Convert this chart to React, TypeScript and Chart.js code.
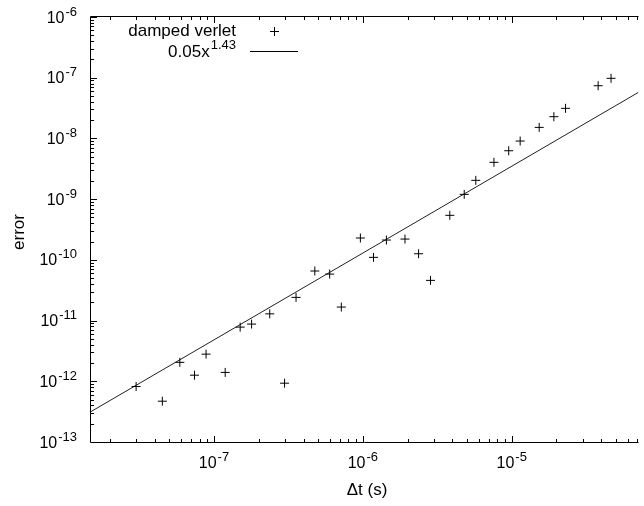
import React, { useEffect, useRef } from "react";
import { Chart, registerables } from "chart.js";

Chart.register(...registerables);

// ---- data ----
const dtValues = [
  3.0e-8, 4.5e-8, 5.9e-8, 7.4e-8, 8.85e-8, 1.19e-7, 1.5e-7, 1.79e-7, 2.37e-7,
  2.98e-7, 3.56e-7, 4.76e-7, 5.99e-7, 7.17e-7, 9.63e-7, 1.18e-6, 1.44e-6,
  1.92e-6, 2.37e-6, 2.85e-6, 3.84e-6, 4.8e-6, 5.74e-6, 7.6e-6, 9.55e-6,
  1.14e-5, 1.53e-5, 1.92e-5, 2.3e-5, 3.81e-5, 4.65e-5,
];
const errorValues = [
  8.2e-13, 4.7e-13, 2.05e-12, 1.26e-12, 2.8e-12, 1.4e-12, 7.8e-12, 8.75e-12,
  1.29e-11, 9.3e-13, 2.41e-11, 6.55e-11, 5.83e-11, 1.67e-11, 2.29e-10,
  1.1e-10, 2.12e-10, 2.2e-10, 1.26e-10, 4.59e-11, 5.41e-10, 1.2e-9, 2.04e-9,
  4.04e-9, 6.27e-9, 9.06e-9, 1.52e-8, 2.28e-8, 3.13e-8, 7.38e-8, 9.77e-8,
];
// fitted line 0.05x^1.43, end points
const fitX = [1.493e-8, 7.11e-5];
const fitY = [3.17e-13, 5.75e-8];

const xMajorExponents = [-7, -6, -5];
const yMajorExponents = [-13, -12, -11, -10, -9, -8, -7, -6];

const X_MIN = 1.493e-8;
const X_MAX = 7.11e-5;
const Y_MIN = 1e-13;
const Y_MAX = 1e-6;

const FONT = '"Liberation Sans", Arial, Helvetica, sans-serif';

function drawPow(
  ctx: CanvasRenderingContext2D,
  base: string,
  exp: string,
  x: number,
  baseY: number,
  align: "right" | "center" | "left",
  mainSize: number,
  supSize: number,
  supRaise: number,
  gap: number
) {
  ctx.font = `${mainSize}px ${FONT}`;
  const wb = ctx.measureText(base).width;
  ctx.font = `${supSize}px ${FONT}`;
  const we = ctx.measureText(exp).width;
  const total = wb + gap + we;
  let start = x;
  if (align === "right") start = x - total;
  else if (align === "center") start = x - total / 2;
  ctx.textAlign = "left";
  ctx.textBaseline = "alphabetic";
  ctx.font = `${mainSize}px ${FONT}`;
  ctx.fillText(base, start, baseY);
  ctx.font = `${supSize}px ${FONT}`;
  ctx.fillText(exp, start + wb + gap, baseY - supRaise);
}

const framePlugin = {
  id: "gnuplotFrame",
  afterDraw(chart: any) {
    const { ctx, chartArea } = chart;
    const xs = chart.scales.x;
    const ys = chart.scales.y;
    const { left, top, right, bottom } = chartArea;
    ctx.save();
    ctx.strokeStyle = "#000";
    ctx.fillStyle = "#000";
    ctx.lineWidth = 1;

    // border: left, top, bottom (right side is cut off in the reference)
    ctx.beginPath();
    ctx.moveTo(right, top - 0.5);
    ctx.lineTo(left - 0.5, top - 0.5);
    ctx.lineTo(left - 0.5, bottom + 0.5);
    ctx.lineTo(right, bottom + 0.5);
    ctx.stroke();

    // x ticks (bottom + mirrored top)
    ctx.beginPath();
    for (let e = -8; e <= -5; e++) {
      for (let m = 1; m <= 9; m++) {
        const v = m * Math.pow(10, e);
        if (v < X_MIN || v > X_MAX) continue;
        const px = Math.round(xs.getPixelForValue(v)) + 0.5;
        const len = m === 1 ? 6 : 3;
        ctx.moveTo(px, bottom);
        ctx.lineTo(px, bottom - len);
        ctx.moveTo(px, top);
        ctx.lineTo(px, top + len);
      }
    }
    // y ticks (left)
    for (let e = -13; e <= -6; e++) {
      for (let m = 1; m <= 9; m++) {
        const v = m * Math.pow(10, e);
        if (v < Y_MIN * 0.999 || v > Y_MAX * 1.001) continue;
        const py = Math.round(ys.getPixelForValue(v)) + 0.5;
        const len = m === 1 ? 6 : 3;
        ctx.moveTo(left, py);
        ctx.lineTo(left + len, py);
      }
    }
    ctx.stroke();

    // x tick labels
    for (const e of xMajorExponents) {
      const px = xs.getPixelForValue(Math.pow(10, e));
      drawPow(ctx, "10", String(e), px, 468, "center", 16, 13, 7, 1);
    }
    // y tick labels
    for (const e of yMajorExponents) {
      const py = ys.getPixelForValue(Math.pow(10, e));
      drawPow(ctx, "10", String(e), 77, py + 5.5, "right", 16, 13, 7, 1);
    }

    // axis titles
    ctx.font = `17px ${FONT}`;
    ctx.textAlign = "center";
    ctx.textBaseline = "alphabetic";
    ctx.fillText("\u0394t (s)", 367, 495);
    ctx.save();
    ctx.translate(24, 232);
    ctx.rotate(-Math.PI / 2);
    ctx.fillText("error", 0, 0);
    ctx.restore();

    // legend
    ctx.font = `17px ${FONT}`;
    ctx.textAlign = "right";
    ctx.textBaseline = "alphabetic";
    ctx.fillText("damped verlet", 236, 36);
    ctx.beginPath();
    ctx.moveTo(270, 31.5);
    ctx.lineTo(279, 31.5);
    ctx.moveTo(274.5, 27);
    ctx.lineTo(274.5, 36);
    ctx.stroke();
    drawPow(ctx, "0.05x", "1.43", 236, 56.5, "right", 17, 13, 7.5, 1);
    ctx.beginPath();
    ctx.moveTo(250, 51.5);
    ctx.lineTo(298, 51.5);
    ctx.stroke();

    ctx.restore();
  },
};

export default function App() {
  const ref = useRef<HTMLCanvasElement | null>(null);
  useEffect(() => {
    document.body.style.margin = "0";
    const canvas = ref.current;
    if (!canvas) return;
    const chart = new Chart(canvas, {
      type: "scatter",
      data: {
        datasets: [
          {
            label: "damped verlet",
            data: dtValues.map((x, i) => ({ x, y: errorValues[i] })),
            pointStyle: "cross",
            pointRadius: 4.5,
            pointHoverRadius: 4.5,
            borderColor: "#000",
            backgroundColor: "#000",
            borderWidth: 1,
            showLine: false,
          },
          {
            label: "0.05x^1.43",
            data: fitX.map((x, i) => ({ x, y: fitY[i] })),
            showLine: true,
            pointRadius: 0,
            borderColor: "#222",
            borderWidth: 1,
            fill: false,
          },
        ],
      },
      options: {
        animation: false,
        responsive: false,
        layout: { padding: { left: 91, top: 17, right: 0, bottom: 64 } },
        scales: {
          x: { type: "logarithmic", min: X_MIN, max: X_MAX, display: false },
          y: { type: "logarithmic", min: Y_MIN, max: Y_MAX, display: false },
        },
        plugins: {
          legend: { display: false },
          tooltip: { enabled: false },
        },
      },
      plugins: [framePlugin],
    });
    return () => chart.destroy();
  }, []);
  return (
    <div style={{ position: "absolute", left: 0, top: 0, width: 644, height: 506, background: "#fff" }}>
      <canvas ref={ref} width={644} height={506} style={{ display: "block" }} />
    </div>
  );
}
